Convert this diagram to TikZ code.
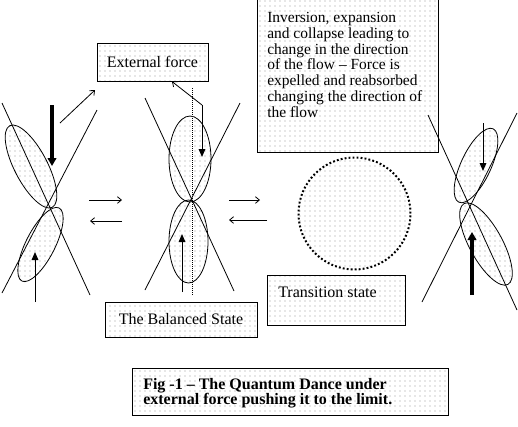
\documentclass[tikz,border=0pt]{standalone}
\usepackage{fontspec}
\setmainfont{Liberation Serif}
\usetikzlibrary{patterns.meta,arrows.meta,shapes.geometric}
\begin{document}
\begin{tikzpicture}[x=0.75pt,y=-0.75pt,
  dotfill/.style={pattern={Dots[radius=0.4pt,distance=3.75pt]},pattern color=black!40},
  box/.style={draw,line width=0.75pt,dotfill,inner sep=0pt},
  lobe/.style={ellipse,draw,line width=0.6pt,dotfill,inner sep=0pt},
  axisline/.style={line width=0.6pt},
  dotline/.style={line width=0.75pt,dash pattern=on 0.75pt off 0.75pt},
  thinarrow/.style={line width=0.6pt,-{Straight Barb[length=3pt,width=5pt]}},
  fillarrow/.style={line width=0.75pt,-{Triangle[length=6pt,width=5pt]}},
  thickarrow/.style={line width=2.4pt,-{Triangle[length=6pt,width=6.5pt]}},
  txt/.style={font=\fontsize{12pt}{12pt}\selectfont,inner sep=0pt}
]
\useasboundingbox (0,0) rectangle (518,426);
\fill[white] (0,0) rectangle (518,426);

% boxes
\node[box,minimum width=135.75pt,minimum height=115.5pt] (inv) at (347.5,75) {};
\node[inner sep=0pt,anchor=north west,align=left,font=\fontsize{11.6pt}{11.85pt}\selectfont] (invt) at (267,12)
 {Inversion, expansion\\and collapse leading to\\change in the direction\\of the flow -- Force is\\expelled and reabsorbed\\changing the direction of\\the flow};
\node[box,txt,minimum width=83.25pt,minimum height=28.5pt] (ext) at (152.5,62) {External force};
\node[box,txt,minimum width=114pt,minimum height=26.25pt] (bal) at (181,319.5) {The Balanced State};
\node[box,minimum width=103.5pt,minimum height=37.5pt] (trans) at (336,300) {};
\node[txt,anchor=base west] (transt) at (278,297) {Transition state};
\node[box,minimum width=237pt,minimum height=35.25pt] (fig) at (290,391.5) {};
\node[inner sep=0pt,anchor=north west,align=left,font=\bfseries\fontsize{12pt}{11.25pt}\selectfont] (figt) at (143,378)
 {Fig -1 -- The Quantum Dance under\\external force pushing it to the limit.};

% left figure
\node[lobe,minimum width=69pt,minimum height=24.75pt,rotate=-62.5] (lu) at (31,166.5) {};
\node[lobe,minimum width=61.5pt,minimum height=21.75pt,rotate=63] (ll) at (40.5,244.5) {};
\draw[axisline] (2,103) -- (90,295);
\draw[axisline] (97,110) -- (2,293);
\draw[thickarrow] (52,105) -- (52,166);
\draw[fillarrow] (35,302) -- (35,252);
\draw[thinarrow] (60,123) -- (95,90);
\draw[thinarrow] (89,200) -- (122,200);
\draw[thinarrow] (122,221) -- (90,221);

% middle figure
\node[lobe,minimum width=31.5pt,minimum height=64.5pt] (mu) at (190,159) {};
\node[lobe,minimum width=29.25pt,minimum height=62.25pt] (ml) at (188.5,241.5) {};
\draw[axisline] (145,98) -- (234,291);
\draw[axisline] (240,103) -- (145,290);
\draw[dotline] (192,88) -- (192,295);
\coordinate (fk) at (202,105);
\draw[thinarrow] (fk) -- ([xshift=14.6pt]ext.south);
\draw[fillarrow] (fk) -- (202,157);
\draw[fillarrow] (182,292) -- (182,234);
\draw[thinarrow] (229,200) -- (260,200);
\draw[thinarrow] (267,220) -- (229,220);

% transition circle
\node[circle,minimum size=84pt,inner sep=0pt,dotfill,draw,line width=1.5pt,dash pattern=on 1.4pt off 1.6pt] (circ) at (354.5,213.5) {};

% right figure
\node[lobe,minimum width=60.75pt,minimum height=22.5pt,rotate=65] (ru) at (476,165.5) {};
\node[lobe,minimum width=69pt,minimum height=24.75pt,rotate=-61.5] (rl) at (486,244) {};
\draw[axisline] (428,115) -- (517,310);
\draw[axisline] (517,113) -- (422,302);
\draw[fillarrow] (483,123) -- (483,171);
\draw[thickarrow] (472,295) -- (472,232);
\end{tikzpicture}
\end{document}
